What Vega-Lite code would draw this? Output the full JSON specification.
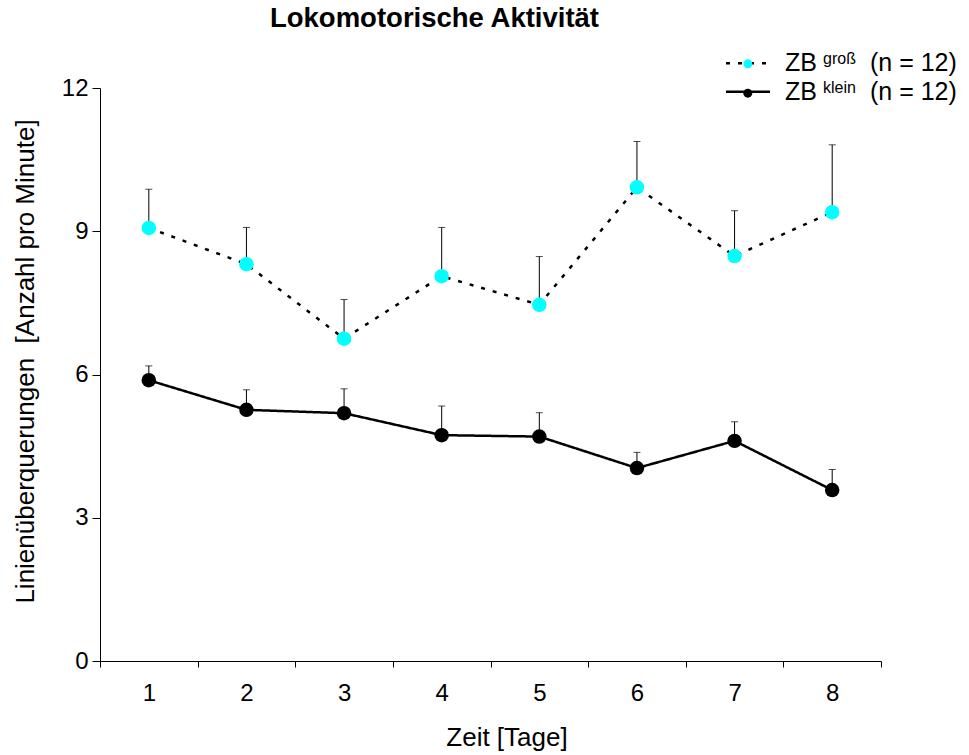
{
  "$schema": "https://vega.github.io/schema/vega-lite/v6.json",
  "width": 781,
  "height": 573,
  "autosize": {"type": "none"},
  "padding": {"left": 100, "top": 88, "right": 88, "bottom": 94},
  "background": "white",
  "title": {
    "text": "Lokomotorische Aktivität",
    "font": "Liberation Sans",
    "fontSize": 27.5,
    "fontWeight": "bold",
    "color": "black",
    "anchor": "middle",
    "frame": "group",
    "dx": -56,
    "dy": 28,
    "offset": 24,
    "baseline": "alphabetic"
  },
  "config": {
    "view": {"stroke": null},
    "font": "Liberation Sans",
    "axis": {
      "grid": false,
      "domainColor": "black",
      "domainWidth": 1,
      "tickColor": "black",
      "tickWidth": 1,
      "labelColor": "black",
      "titleColor": "black",
      "labelFont": "Liberation Sans",
      "titleFont": "Liberation Sans",
      "titleFontWeight": "normal",
      "labelFontSize": 24,
      "titleFontSize": 26
    },
    "axisY": {"tickSize": 8, "labelPadding": 4, "titlePadding": 23, "titleY": 273},
    "axisX": {"tickSize": 6, "labelPadding": 14, "titlePadding": 19, "labelAngle": 0, "titleX": 406.5}
  },
  "data": {
    "values": [
      {"day": 1, "group": "groß", "mean": 9.07, "upper": 9.88},
      {"day": 2, "group": "groß", "mean": 8.31, "upper": 9.08},
      {"day": 3, "group": "groß", "mean": 6.75, "upper": 7.57},
      {"day": 4, "group": "groß", "mean": 8.06, "upper": 9.08},
      {"day": 5, "group": "groß", "mean": 7.46, "upper": 8.47},
      {"day": 6, "group": "groß", "mean": 9.92, "upper": 10.88},
      {"day": 7, "group": "groß", "mean": 8.48, "upper": 9.43},
      {"day": 8, "group": "groß", "mean": 9.40, "upper": 10.81},
      {"day": 1, "group": "klein", "mean": 5.88, "upper": 6.18},
      {"day": 2, "group": "klein", "mean": 5.26, "upper": 5.68},
      {"day": 3, "group": "klein", "mean": 5.19, "upper": 5.70},
      {"day": 4, "group": "klein", "mean": 4.73, "upper": 5.34},
      {"day": 5, "group": "klein", "mean": 4.70, "upper": 5.20},
      {"day": 6, "group": "klein", "mean": 4.04, "upper": 4.37},
      {"day": 7, "group": "klein", "mean": 4.61, "upper": 5.01},
      {"day": 8, "group": "klein", "mean": 3.58, "upper": 4.01}
    ]
  },
  "encoding": {
    "x": {
      "field": "day",
      "type": "ordinal",
      "title": "Zeit [Tage]",
      "scale": {"type": "band", "paddingInner": 0, "paddingOuter": 0},
      "axis": {"tickBand": "extent"}
    }
  },
  "layer": [
    {
      "mark": {"type": "rule", "strokeWidth": 1},
      "encoding": {
        "y": {
          "field": "mean",
          "type": "quantitative",
          "title": "Linienüberquerungen\u00a0 [Anzahl pro Minute]",
          "scale": {"domain": [0, 12], "nice": false, "zero": true},
          "axis": {"values": [0, 3, 6, 9, 12]}
        },
        "y2": {"field": "upper"},
        "stroke": {
          "field": "group",
          "type": "nominal",
          "sort": "descending",
          "scale": {"range": ["black", "black"]},
          "legend": {
            "orient": "none",
            "legendX": 745,
            "legendY": -37.2,
            "title": null,
            "padding": 0,
            "symbolSize": 0,
            "symbolStrokeWidth": 0,
            "symbolOpacity": 0,
            "labelExpr": "'(n = 12)'",
            "labelFont": "Liberation Sans",
            "labelFontSize": 25,
            "labelColor": "black",
            "labelOffset": 0,
            "labelLimit": 0,
            "rowPadding": 2.4
          }
        }
      }
    },
    {
      "mark": {"type": "tick", "color": "black", "thickness": 1, "size": 7, "orient": "horizontal"},
      "encoding": {
        "y": {"field": "upper", "type": "quantitative", "title": "Linienüberquerungen\u00a0 [Anzahl pro Minute]"}
      }
    },
    {
      "mark": {"type": "line", "color": "black", "strokeWidth": 2.5},
      "encoding": {
        "y": {"field": "mean", "type": "quantitative", "title": "Linienüberquerungen\u00a0 [Anzahl pro Minute]"},
        "strokeDash": {
          "field": "group",
          "type": "nominal",
          "scale": {"range": [[4, 8], [1, 0]]},
          "legend": {
            "orient": "none",
            "legendX": 635.5,
            "legendY": -37.2,
            "title": null,
            "padding": 0,
            "symbolType": "M-2.2,0H2.2",
            "symbolSize": 400,
            "symbolStrokeWidth": 2.5,
            "symbolStrokeColor": "black",
            "symbolFillColor": "transparent",
            "labelExpr": "'ZB'",
            "labelFont": "Liberation Sans",
            "labelFontSize": 25,
            "labelColor": "black",
            "labelOffset": 24.5,
            "labelLimit": 0,
            "rowPadding": 2.4
          }
        }
      }
    },
    {
      "mark": {"type": "circle", "size": 210, "opacity": 1, "strokeWidth": 0},
      "encoding": {
        "y": {"field": "mean", "type": "quantitative", "title": "Linienüberquerungen\u00a0 [Anzahl pro Minute]"},
        "fill": {
          "field": "group",
          "type": "nominal",
          "scale": {"domain": ["groß", "klein"], "range": ["#00FFFF", "#000000"]},
          "legend": {
            "orient": "none",
            "legendX": 639.8,
            "legendY": -32.2,
            "title": null,
            "padding": 0,
            "symbolType": "circle",
            "symbolSize": 80,
            "symbolStrokeWidth": 0,
            "symbolOpacity": 1,
            "labelFont": "Liberation Sans",
            "labelFontSize": 16,
            "labelColor": "black",
            "labelOffset": 67.2,
            "labelBaseline": "alphabetic",
            "labelLimit": 0,
            "rowPadding": 11.4
          }
        }
      }
    }
  ]
}
